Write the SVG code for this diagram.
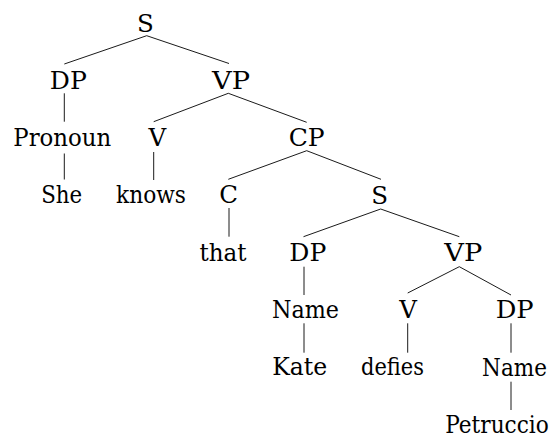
<svg xmlns="http://www.w3.org/2000/svg" width="552" height="437" viewBox="0 0 552 437">
  <style>
    .lbl { font-family: "DejaVu Serif", "Liberation Serif", serif; font-size: 24.5px; fill: #000; text-anchor: middle; }
    .edge { stroke: #000; stroke-width: 0.9; fill: none; stroke-linecap: butt; }
  </style>
  <rect width="552" height="437" fill="#fff"/>

  <!-- tree edges -->
  <g id="edges" class="edge">
    <line x1="146.7" y1="35.7" x2="64.3" y2="64"/>
    <line x1="146.7" y1="35.7" x2="229" y2="63.5"/>
    <line x1="64.3" y1="93.3" x2="64.3" y2="121.7"/>
    <line x1="64.3" y1="153.5" x2="64.3" y2="179.5"/>
    <line x1="228.3" y1="93.3" x2="153.7" y2="121.7"/>
    <line x1="228.3" y1="93.3" x2="306.7" y2="122.3"/>
    <line x1="153.7" y1="152" x2="153.7" y2="180"/>
    <line x1="306.7" y1="150.7" x2="228.3" y2="179.3"/>
    <line x1="306.7" y1="150.7" x2="381" y2="179.3"/>
    <line x1="229" y1="208" x2="229" y2="236.7"/>
    <line x1="380.7" y1="209" x2="303.5" y2="236.7"/>
    <line x1="380.7" y1="209" x2="459.3" y2="236.7"/>
    <line x1="304" y1="266.7" x2="304" y2="295"/>
    <line x1="304" y1="323.3" x2="304" y2="352.7"/>
    <line x1="459.3" y1="266.7" x2="407.7" y2="293"/>
    <line x1="459.3" y1="266.7" x2="511" y2="295"/>
    <line x1="407.7" y1="323.3" x2="407.7" y2="352.7"/>
    <line x1="511" y1="323.3" x2="511" y2="352.7"/>
    <line x1="511" y1="381.7" x2="511" y2="410"/>
  </g>

  <!-- tree nodes -->
  <g id="n-s-root"><text class="lbl" x="145.5" y="32">S</text></g>
  <g id="n-dp-subj"><text class="lbl" x="68.3" y="88.7" textLength="37" lengthAdjust="spacingAndGlyphs">DP</text></g>
  <g id="n-vp-main"><text class="lbl" x="231" y="88.7" textLength="38" lengthAdjust="spacingAndGlyphs">VP</text></g>
  <g id="n-pronoun"><text class="lbl" x="62.3" y="145.7" textLength="98" lengthAdjust="spacingAndGlyphs">Pronoun</text></g>
  <g id="n-v-knows"><text class="lbl" x="157.3" y="145.7">V</text></g>
  <g id="n-cp"><text class="lbl" x="306.7" y="145.7" textLength="36" lengthAdjust="spacingAndGlyphs">CP</text></g>
  <g id="n-she"><text class="lbl" x="61.7" y="203" textLength="41" lengthAdjust="spacingAndGlyphs">She</text></g>
  <g id="n-knows"><text class="lbl" x="151" y="203" textLength="70" lengthAdjust="spacingAndGlyphs">knows</text></g>
  <g id="n-c"><text class="lbl" x="228.7" y="203">C</text></g>
  <g id="n-s-embedded"><text class="lbl" x="379.7" y="203.5">S</text></g>
  <g id="n-that"><text class="lbl" x="223" y="260.7" textLength="47" lengthAdjust="spacingAndGlyphs">that</text></g>
  <g id="n-dp-kate"><text class="lbl" x="307.8" y="260.7" textLength="37" lengthAdjust="spacingAndGlyphs">DP</text></g>
  <g id="n-vp-defies"><text class="lbl" x="463.3" y="260.7" textLength="38" lengthAdjust="spacingAndGlyphs">VP</text></g>
  <g id="n-name-kate"><text class="lbl" x="305.5" y="318" textLength="67" lengthAdjust="spacingAndGlyphs">Name</text></g>
  <g id="n-v-defies"><text class="lbl" x="408" y="318">V</text></g>
  <g id="n-dp-obj"><text class="lbl" x="514.7" y="318" textLength="38" lengthAdjust="spacingAndGlyphs">DP</text></g>
  <g id="n-kate"><text class="lbl" x="299.7" y="375.3" textLength="55" lengthAdjust="spacingAndGlyphs">Kate</text></g>
  <g id="n-defies"><text class="lbl" x="392.5" y="375.3" textLength="63" lengthAdjust="spacingAndGlyphs">defies</text></g>
  <!-- the two right-edge labels are narrowed with a horizontal scale -->
  <g id="n-name-obj" transform="translate(514.5 375.5) scale(0.9 1)"><text class="lbl" x="0" y="0" textLength="72" lengthAdjust="spacingAndGlyphs">Name</text></g>
  <g id="n-petruccio" transform="translate(497 433) scale(0.86 1)"><text class="lbl" x="0" y="0" font-size="23.5" textLength="120.5" lengthAdjust="spacingAndGlyphs">Petruccio</text></g>
</svg>
